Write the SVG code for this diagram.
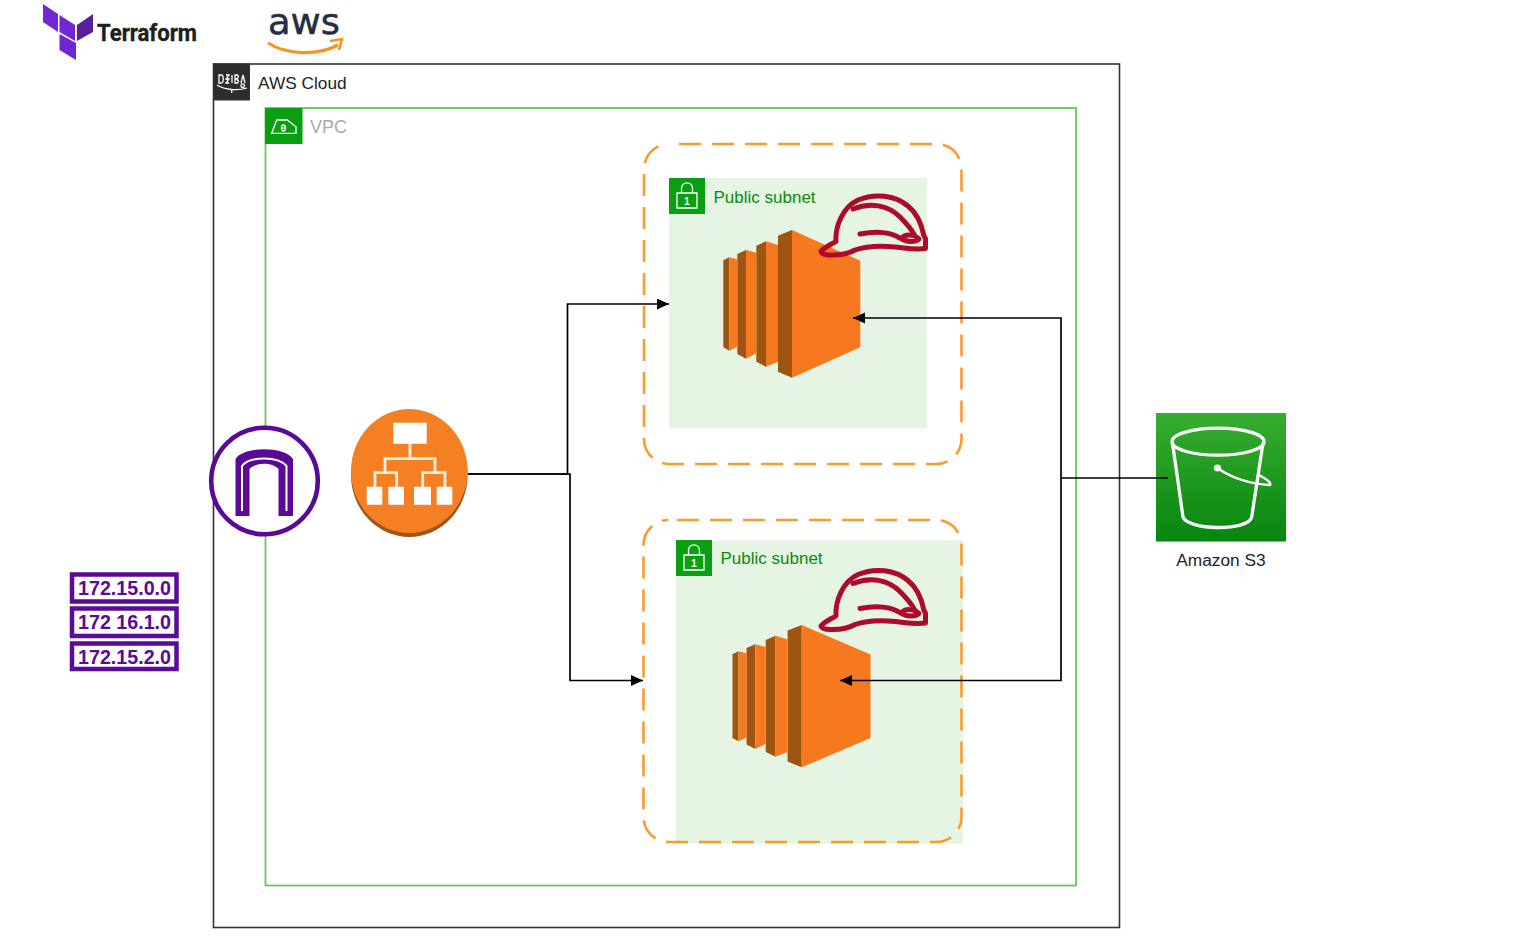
<svg xmlns="http://www.w3.org/2000/svg" width="1536" height="948" viewBox="0 0 1536 948">
<style>
text{font-family:"Liberation Sans",Arial,sans-serif}
.lbl{font-size:17.3px;fill:#232323}
.sub{font-size:17px;fill:#0b8a0b}
.ip{font-size:20px;font-weight:700;fill:#5a0a96;text-anchor:middle}
.ipbox{fill:#fff;stroke:#5a0a96;stroke-width:4.500}
.dash{fill:none;stroke:#fb9a2e;stroke-width:2.600;stroke-dasharray:22 11}
.sfill{fill:#e6f4e4}
.conn{fill:none;stroke:#000;stroke-width:1.700}
.hat{fill:none;stroke:#ae0a2a;stroke-width:5;stroke-linecap:round;stroke-linejoin:round}
.wl{fill:none;stroke:#fff;stroke-width:1.300}
</style>
<defs>
<marker id="ah" markerUnits="userSpaceOnUse" markerWidth="13" markerHeight="12" refX="12" refY="5.500" orient="auto"><path d="M0 0L12 5.500L0 11Z" fill="#000"/></marker>
<linearGradient id="s3g" x1="0" y1="0" x2="0" y2="1"><stop offset="0" stop-color="#38ad30"/><stop offset="1" stop-color="#07860f"/></linearGradient>
<g id="ec2">
<path fill="#9d5511" d="M723.300 260.300L729.300 257.300V350.700L723.300 347.300ZM737.300 254L746 250V358.700L737.300 354ZM756.300 245.700L766 241.300V366.700L756.300 361.700ZM778 235.700L792 230V377.700L778 371.700Z"/>
<path fill="#f7791f" d="M729.300 257.300L737.300 259.300V346.700L729.300 350.700ZM746 250L756.300 252.700V353.300L746 358.700ZM766 241.300L778 245V361.700L766 366.700ZM792 230L860.300 260.700V347.300L792 377.700Z"/>
</g>
<g id="hat">
<path class="hat" d="M821 251.500C826 246 832 244 836 241.500C835 226 843 207 858 200C875 193 895 195 908 206C918 214 922 226 924 236L925.500 238.500V248.500C915 250 905 248 895 247C880 245.500 865 246.500 855 250C848 254 840 255.500 830 255C825 255 822 254 821 251.500Z"/>
<path class="hat" d="M853 209C870 202 888 205 900 217C908 225 913 232 915 236"/>
<path class="hat" d="M860 234C875 231 890 232 900 238C907 243 916 242 919 239C914 234 905 234 902 238"/>
</g>
<g id="lock">
<rect width="36" height="36" fill="#0a9e12"/>
<path class="wl" d="M8 15H28V30H8ZM12.500 15V10.500C12.500 3 23.500 3 23.500 10.500V15"/>
<text x="18" y="27" font-size="10.500" font-weight="700" fill="#fff" text-anchor="middle">1</text>
</g>
</defs>

<g id="terraform-logo">
<path fill="#7225d2" d="M43 4L58 14V32L43 22ZM59.500 15L75 25V41L59.500 32ZM59.500 34L76 43V60L59.500 50Z"/>
<path fill="#5c1f9c" d="M77 25L93 14V32L77 41Z"/>
<text x="97" y="41" font-size="24" font-weight="700" fill="#1f1f1f" stroke="#1f1f1f" stroke-width=".4" textLength="100" lengthAdjust="spacingAndGlyphs" style="font-family:Roboto,sans-serif">Terraform</text>
</g>
<g id="aws-logo">
<text x="268" y="33.500" font-size="36" fill="#232f3e" stroke="#232f3e" stroke-width=".5" textLength="72" lengthAdjust="spacingAndGlyphs" style="font-family:'DejaVu Sans',sans-serif">aws</text>
<path d="M268 43C287 55 317 56 338 45" fill="none" stroke="#f7941e" stroke-width="3.200"/>
<path d="M330 41L342 39L339 50" fill="none" stroke="#f7941e" stroke-width="2.500"/>
</g>

<g id="aws-cloud">
<rect x="213.500" y="64" width="906" height="863.500" fill="#fff" stroke="#333" stroke-width="1.600"/>
<rect x="213" y="63.500" width="37" height="37" fill="#2e2e2e"/>
<path class="wl" d="M219 75H221C224 75 224 83 221 83H219ZM226 75H229L226 79H229L226 83H229M232 75V83M235 75H237C239 75 239 79 235 79C239 79 239 83 237 83H235ZM241 83L243 75L245 83"/>
<path class="wl" d="M217 85C225 90 238 91 247 88M231.700 90V93"/>
<circle cx="242.700" cy="85.700" r="1.800" class="wl"/>
<text class="lbl" x="258" y="89">AWS Cloud</text>
</g>
<g id="vpc">
<rect x="265.500" y="108" width="810.500" height="777.500" fill="none" stroke="#6cc55a" stroke-width="1.800"/>
<rect x="265" y="108" width="37.500" height="36" fill="#0a9e12"/>
<path class="wl" d="M271.700 133.300L276.700 120H287.300L296 126.700V133.300Z"/>
<ellipse cx="283.500" cy="128" rx="2" ry="3" class="wl"/>
<path class="wl" d="M281.500 128H285.500"/>
<text x="310" y="133" font-size="18" fill="#aaa">VPC</text>
</g>

<g id="subnet-1">
<rect class="sfill" x="669" y="178" width="258" height="250.500"/>
<rect class="dash" x="644" y="144" width="317.500" height="320" rx="25" stroke-dashoffset="23"/>
<use href="#lock" x="669" y="178"/>
<text class="sub" x="713.500" y="202.500">Public subnet</text>
</g>
<g id="subnet-2">
<rect class="sfill" x="676" y="540.500" width="287" height="303"/>
<rect class="dash" x="643.500" y="520" width="318" height="322" rx="25" stroke-dashoffset="24.500"/>
<use href="#lock" x="676" y="540"/>
<text class="sub" x="720.500" y="564">Public subnet</text>
</g>

<g id="ec2-1"><use href="#ec2"/></g>
<g id="hat-1"><use href="#hat"/></g>
<g id="ec2-2"><use href="#ec2" transform="translate(801.700 696.150) scale(1.008 .964) translate(-792 -303.850)"/></g>
<g id="hat-2"><use href="#hat" y="374.500"/></g>

<g id="internet-gateway">
<circle cx="264.500" cy="481" r="53.300" fill="#fff" stroke="#5a0a96" stroke-width="4.600"/>
<path fill="#5a0a96" d="M235.500 516V459C243 446 285 446 293 459V516H278.500V469C272 462 256 462 249.500 469V516Z"/>
<path fill="none" stroke="#fff" stroke-width="2" d="M242 511V466C250 456 278 456 286.500 466V511"/>
</g>
<g id="load-balancer">
<ellipse cx="409.300" cy="475" rx="58.300" ry="62" fill="#a0561a"/>
<ellipse cx="409.300" cy="471" rx="58.300" ry="62" fill="#f58024"/>
<path fill="none" stroke="#f7f1dd" stroke-width="2.800" d="M410 443V458.700M385 472V458.700H435V472M375 487V472.700H396.700V487M422.700 487V472.700H445V487"/>
<path fill="#fff" d="M393.300 422.700H426.700V443.700H393.300ZM366.700 486.700H382.300V504.700H366.700ZM388.300 486.700H404V504.700H388.300ZM414 486.700H431V504.700H414ZM436.700 486.700H452.300V504.700H436.700Z"/>
</g>

<g id="ip-1"><rect class="ipbox" x="72" y="574.500" width="104.500" height="27"/><text class="ip" x="124.500" y="595" textLength="93" lengthAdjust="spacingAndGlyphs">172.15.0.0</text></g>
<g id="ip-2"><rect class="ipbox" x="72" y="608.500" width="104.500" height="27.500"/><text class="ip" x="124.500" y="629" textLength="93" lengthAdjust="spacingAndGlyphs">172 16.1.0</text></g>
<g id="ip-3"><rect class="ipbox" x="72" y="643.500" width="104.500" height="25.500"/><text class="ip" x="124.500" y="663.500" textLength="93" lengthAdjust="spacingAndGlyphs">172.15.2.0</text></g>

<g id="s3">
<rect x="1156" y="413" width="130" height="128.500" fill="url(#s3g)"/>
<g fill="none" stroke="#fff" stroke-width="3.300">
<ellipse cx="1218" cy="441.700" rx="46" ry="13.500"/>
<path d="M1172.500 443L1183 517C1187 530 1248 532 1251.700 517L1263 443"/>
<path d="M1217.300 468C1232 478 1250 484 1270 485C1272 482 1264 478 1259 475" stroke-width="2.500"/>
</g>
<circle cx="1217.500" cy="468" r="3.600" fill="#fff"/>
<text class="lbl" x="1221" y="566" text-anchor="middle">Amazon S3</text>
</g>

<g id="connectors">
<path class="conn" d="M468 474H567.500V304H669" marker-end="url(#ah)"/>
<path class="conn" d="M468 474H570V680.500H643" marker-end="url(#ah)"/>
<path class="conn" d="M1168 478H1061V318H853" marker-end="url(#ah)"/>
<path class="conn" d="M1061 478V680.500H840" marker-end="url(#ah)"/>
</g>
</svg>
